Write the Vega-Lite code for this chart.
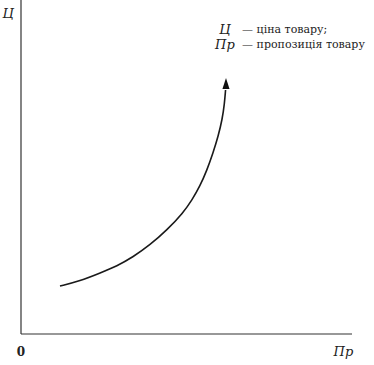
{
  "$schema": "https://vega.github.io/schema/vega-lite/v6.json",
  "width": 331,
  "height": 334,
  "padding": {"left": 21, "right": 22, "top": 0, "bottom": 31},
  "autosize": {"type": "none"},
  "background": "white",
  "config": {"view": {"stroke": null}},
  "datasets": {
    "curve": [
      {"q": 11.78, "p": 14.37}, {"q": 17.82, "p": 15.87}, {"q": 23.87, "p": 18.26},
      {"q": 29.0, "p": 20.36}, {"q": 33.84, "p": 23.05}, {"q": 38.97, "p": 26.65},
      {"q": 44.11, "p": 31.14}, {"q": 48.94, "p": 36.23}, {"q": 51.66, "p": 40.12},
      {"q": 54.08, "p": 44.31}, {"q": 56.19, "p": 49.1}, {"q": 58.01, "p": 54.19},
      {"q": 59.6, "p": 59.3}, {"q": 60.8, "p": 64.3}, {"q": 61.45, "p": 68.8},
      {"q": 61.8, "p": 73.05}
    ],
    "axes": [
      {"x1": 0, "y1": 0, "x2": 0, "y2": 100},
      {"x1": 0, "y1": 0, "x2": 100, "y2": 0}
    ],
    "arrow": [{"q": 61.93, "p": 74.85}],
    "italic": [
      {"q": -3.9, "p": 95.8, "t": "Ц", "a": "center"},
      {"q": 97.4, "p": -5.4, "t": "Пр", "a": "center"},
      {"q": 61.6, "p": 91.0, "t": "Ц", "a": "left"},
      {"q": 61.6, "p": 86.5, "t": "Пр", "a": "left"}
    ],
    "plain": [
      {"q": 66.8, "p": 91.0, "t": "— ціна товару;"},
      {"q": 66.8, "p": 86.5, "t": "— пропозиція товару"}
    ],
    "zero": [{"q": 0, "p": -5.4, "t": "0"}]
  },
  "layer": [
    {
      "data": {"name": "axes"},
      "mark": {"type": "rule", "color": "#333", "strokeWidth": 1.2, "clip": false},
      "encoding": {
        "x": {"field": "x1", "type": "quantitative", "scale": {"domain": [0, 100]}, "axis": null},
        "y": {"field": "y1", "type": "quantitative", "scale": {"domain": [0, 100]}, "axis": null},
        "x2": {"field": "x2"},
        "y2": {"field": "y2"}
      }
    },
    {
      "data": {"name": "curve"},
      "mark": {"type": "line", "color": "#1a1a1a", "strokeWidth": 1.6, "interpolate": "basis", "clip": false},
      "encoding": {
        "x": {"field": "q", "type": "quantitative", "scale": {"domain": [0, 100]}, "axis": null},
        "y": {"field": "p", "type": "quantitative", "scale": {"domain": [0, 100]}, "axis": null}
      }
    },
    {
      "data": {"name": "arrow"},
      "mark": {"type": "point", "shape": "M0,-1L0.6,0.85L-0.6,0.85Z", "filled": true, "color": "#111", "size": 140, "opacity": 1, "strokeWidth": 0},
      "encoding": {
        "x": {"field": "q", "type": "quantitative"},
        "y": {"field": "p", "type": "quantitative"}
      }
    },
    {
      "data": {"name": "italic"},
      "mark": {"type": "text", "font": "DejaVu Serif", "fontStyle": "italic", "fontSize": 13, "baseline": "middle", "color": "#222", "clip": false},
      "encoding": {
        "x": {"field": "q", "type": "quantitative"},
        "y": {"field": "p", "type": "quantitative"},
        "text": {"field": "t"},
        "align": {"field": "a", "type": "nominal", "scale": null}
      }
    },
    {
      "data": {"name": "plain"},
      "mark": {"type": "text", "font": "DejaVu Serif", "fontSize": 11, "align": "left", "baseline": "middle", "color": "#222", "clip": false},
      "encoding": {
        "x": {"field": "q", "type": "quantitative"},
        "y": {"field": "p", "type": "quantitative"},
        "text": {"field": "t"}
      }
    },
    {
      "data": {"name": "zero"},
      "mark": {"type": "text", "font": "DejaVu Serif", "fontWeight": "bold", "fontSize": 12, "align": "center", "baseline": "middle", "color": "#222", "clip": false},
      "encoding": {
        "x": {"field": "q", "type": "quantitative"},
        "y": {"field": "p", "type": "quantitative"},
        "text": {"field": "t"}
      }
    }
  ]
}
